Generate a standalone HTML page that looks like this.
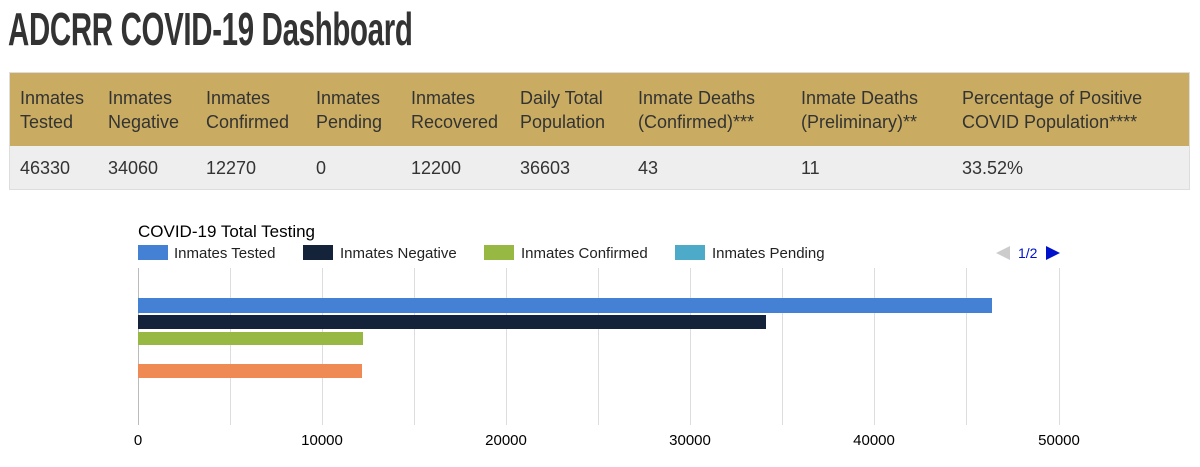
<!DOCTYPE html>
<html><head><style>
body{margin:0;width:1200px;height:467px;background:#fff;font-family:"Liberation Sans",sans-serif;position:relative;overflow:hidden;color:#333}
.t{position:absolute;left:8px;top:2px;font-size:46px;font-weight:bold;color:#333;transform:scaleX(0.64);transform-origin:0 0;white-space:nowrap;letter-spacing:-0.5px}
.hdr{position:absolute;left:9px;top:72px;width:1179px;height:73px;background:#c9ac62;border:1px solid #ddd}
.row{position:absolute;left:9px;top:146px;width:1179px;height:43px;background:#eee;border:1px solid #ddd;border-top:none}
.c{position:absolute;font-size:18px;line-height:24px;color:#333;white-space:nowrap}
.g{position:absolute;top:268px;width:1px;height:157px;background:#ddd}
.b{position:absolute;left:138px}
.tk{position:absolute;top:432px;font-size:15px;color:#000;transform:translateX(-50%)}
.lg{position:absolute;top:245px;height:15px;width:30px}
.lt{position:absolute;top:245px;font-size:15px;color:#222}
</style></head><body>
<div class="t">ADCRR COVID-19 Dashboard</div>
<div class="hdr"></div><div class="row"></div>
<div class="c" style="left:20px;top:86px">Inmates<br>Tested</div>
<div class="c" style="left:108px;top:86px">Inmates<br>Negative</div>
<div class="c" style="left:206px;top:86px">Inmates<br>Confirmed</div>
<div class="c" style="left:316px;top:86px">Inmates<br>Pending</div>
<div class="c" style="left:411px;top:86px">Inmates<br>Recovered</div>
<div class="c" style="left:520px;top:86px">Daily Total<br>Population</div>
<div class="c" style="left:638px;top:86px">Inmate Deaths<br>(Confirmed)***</div>
<div class="c" style="left:801px;top:86px">Inmate Deaths<br>(Preliminary)**</div>
<div class="c" style="left:962px;top:86px">Percentage of Positive<br>COVID Population****</div>
<div class="c" style="left:20px;top:156px">46330</div>
<div class="c" style="left:108px;top:156px">34060</div>
<div class="c" style="left:206px;top:156px">12270</div>
<div class="c" style="left:316px;top:156px">0</div>
<div class="c" style="left:411px;top:156px">12200</div>
<div class="c" style="left:520px;top:156px">36603</div>
<div class="c" style="left:638px;top:156px">43</div>
<div class="c" style="left:801px;top:156px">11</div>
<div class="c" style="left:962px;top:156px">33.52%</div>

<div style="position:absolute;left:138px;top:222px;font-size:17px;color:#000">COVID-19 Total Testing</div>
<div class="lg" style="left:138px;background:#4480d4"></div><div class="lt" style="left:174px">Inmates Tested</div>
<div class="lg" style="left:303px;background:#14233a"></div><div class="lt" style="left:340px">Inmates Negative</div>
<div class="lg" style="left:484px;background:#97b944"></div><div class="lt" style="left:521px">Inmates Confirmed</div>
<div class="lg" style="left:675px;background:#4eaac9"></div><div class="lt" style="left:712px">Inmates Pending</div>
<div style="position:absolute;left:996px;top:246px;width:0;height:0;border-top:7px solid transparent;border-bottom:7px solid transparent;border-right:14px solid #ccc"></div>
<div style="position:absolute;left:1018px;top:245px;font-size:14px;color:#0011cc">1/2</div>
<div style="position:absolute;left:1046px;top:246px;width:0;height:0;border-top:7px solid transparent;border-bottom:7px solid transparent;border-left:14px solid #0011cc"></div>

<div class="g" style="left:138px;background:#bbb"></div>
<div class="g" style="left:230px"></div><div class="g" style="left:322px"></div>
<div class="g" style="left:414px"></div><div class="g" style="left:506px"></div>
<div class="g" style="left:598px"></div><div class="g" style="left:690px"></div>
<div class="g" style="left:782px"></div><div class="g" style="left:874px"></div>
<div class="g" style="left:966px"></div><div class="g" style="left:1059px"></div>

<div class="b" style="top:298px;height:15px;width:854px;background:#4480d4"></div>
<div class="b" style="top:315px;height:14px;width:628px;background:#14233a"></div>
<div class="b" style="top:332px;height:13px;width:225px;background:#97b944"></div>
<div class="b" style="top:364px;height:14px;width:224px;background:#f08a54"></div>

<div class="tk" style="left:138px">0</div>
<div class="tk" style="left:322px">10000</div>
<div class="tk" style="left:506px">20000</div>
<div class="tk" style="left:690px">30000</div>
<div class="tk" style="left:874px">40000</div>
<div class="tk" style="left:1059px">50000</div>
</body></html>
